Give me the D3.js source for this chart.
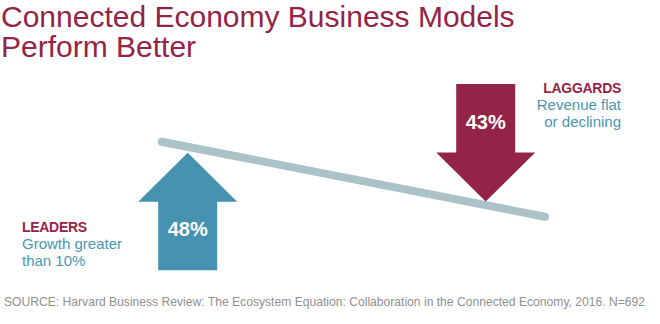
<!DOCTYPE html>
<html><head><meta charset="utf-8">
<script src="https://cdn.jsdelivr.net/npm/d3@7"></script>
<style>body{margin:0;background:#fff}svg{display:block}</style>
</head><body>
<script>
const titleLines = ["Connected Economy Business Models", "Perform Better"];
const categories = ["LEADERS", "LAGGARDS"];
const values = [48, 43];
const directions = ["up", "down"];
const descriptions = [["Growth greater", "than 10%"], ["Revenue flat", "or declining"]];
const trend = [1, 0]; // seesaw line: high at start, low at end
const source = "SOURCE: Harvard Business Review: The Ecosystem Equation: Collaboration in the Connected Economy, 2016. N=692";

const W = 660, H = 324;
const maroon = "#942447", teal = "#4593b0", tealText = "#4a97b2", lineCol = "#abc2c9";
const svg = d3.select("body").append("svg").attr("width", W).attr("height", H);

// title
const title = svg.append("text").attr("fill", maroon)
  .style("font-family", "'Liberation Sans', Arial, sans-serif").style("font-size", "30px");
titleLines.forEach((t, i) => title.append("tspan").attr("x", 1).attr("y", 27 + i * 29.5).text(t));

// scales
const x = d3.scalePoint().domain(categories).range([187.7, 485.7]);
const lineX = d3.scaleLinear().domain([0, 1]).range([161.7, 545]);
const lineY = d3.scaleLinear().domain([0, 1]).range([216.7, 141.7]);

// seesaw line
svg.append("path")
  .datum(trend)
  .attr("d", d3.line().x((d, i) => lineX(i)).y(d => lineY(d)))
  .attr("stroke", lineCol).attr("stroke-width", 8).attr("stroke-linecap", "round").attr("fill", "none");

// arrows
const arrowLen = 117.5, headH = 49, headHalf = 49.5, shaftHalf = 29.5;
const arrowTop = { up: 152.7, down: 84 };
const colors = [teal, maroon];
categories.forEach((c, i) => {
  const cx = x(c), dir = directions[i];
  let pts;
  if (dir === "up") {
    const tip = arrowTop.up, base = tip + headH, bottom = tip + arrowLen;
    pts = [[cx, tip], [cx + headHalf, base], [cx + shaftHalf, base], [cx + shaftHalf, bottom],
           [cx - shaftHalf, bottom], [cx - shaftHalf, base], [cx - headHalf, base]];
  } else {
    const top = arrowTop.down, tip = top + arrowLen, base = tip - headH;
    pts = [[cx - shaftHalf, top], [cx + shaftHalf, top], [cx + shaftHalf, base], [cx + headHalf, base],
           [cx, tip], [cx - headHalf, base], [cx - shaftHalf, base]];
  }
  svg.append("path").attr("d", d3.line()(pts) + "Z").attr("fill", colors[i]);
  const ly = dir === "up" ? 236 : 129;
  svg.append("text").attr("x", cx).attr("y", ly).attr("text-anchor", "middle")
    .attr("fill", "#fff").style("font-family", "'Liberation Sans', Arial, sans-serif")
    .style("font-weight", "bold").style("font-size", "20px").text(values[i] + "%");
});

// side labels
const labelPos = [{ x: 22, y: 232, anchor: "start" }, { x: 621, y: 93, anchor: "end" }];
categories.forEach((c, i) => {
  const p = labelPos[i];
  svg.append("text").attr("x", p.x).attr("y", p.y).attr("text-anchor", p.anchor)
    .attr("fill", maroon).style("font-family", "'Liberation Sans', Arial, sans-serif")
    .style("font-weight", "bold").style("font-size", "14px").style("letter-spacing", "-0.3px").text(c);
  descriptions[i].forEach((d, j) => {
    svg.append("text").attr("x", p.x).attr("y", p.y + 17 + j * 16.7).attr("text-anchor", p.anchor)
      .attr("fill", tealText).style("font-family", "'Liberation Sans', Arial, sans-serif")
      .style("font-size", "15px").text(d);
  });
});

// source
svg.append("text").attr("x", 4).attr("y", 306).attr("fill", "#8f8f8f")
  .style("font-family", "'Liberation Sans Narrow', 'Liberation Sans', Arial, sans-serif")
  .style("font-size", "12px").attr("textLength", 641).attr("lengthAdjust", "spacingAndGlyphs")
  .text(source);
</script>
</body></html>
